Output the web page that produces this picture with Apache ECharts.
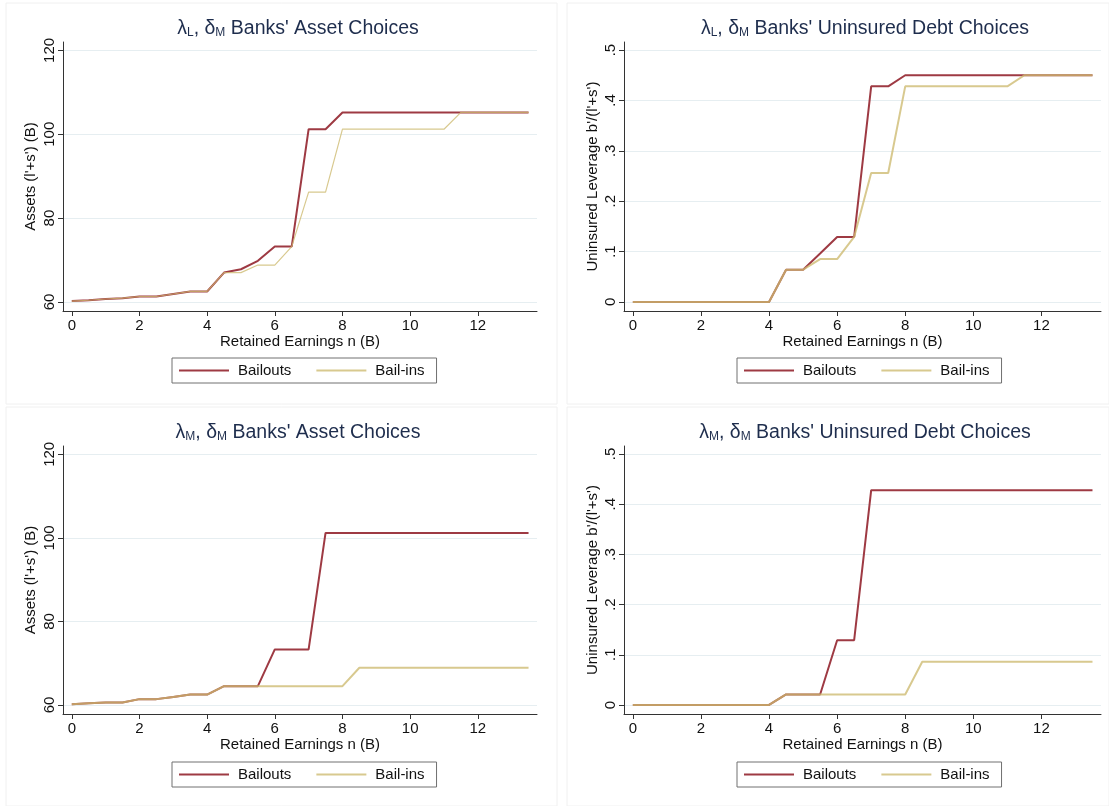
<!DOCTYPE html>
<html><head><meta charset="utf-8">
<script src="https://cdn.jsdelivr.net/npm/echarts@6/dist/echarts.min.js"></script>
<style>html,body{margin:0;padding:0;background:#fff}#c{width:1109px;height:806px}</style>
</head><body><div id="c"></div>
<script>
// ---- data ----
const earnings = [0,0.5,1,1.5,2,2.5,3,3.5,4,4.5,5,5.5,6,6.5,7,7.5,8,8.5,9,9.5,10,10.5,11,11.5,12,12.5,13,13.5];
const xTicks = [0,2,4,6,8,10,12];
const assetTicks = [60,80,100,120];
const levTicks = [0,0.1,0.2,0.3,0.4,0.5];
const levTickLabels = ['0','.1','.2','.3','.4','.5'];

const tlBailouts = [60.2,60.4,60.7,60.9,61.3,61.3,61.9,62.5,62.5,67.0,67.8,69.8,73.2,73.2,101.2,101.2,105.2,105.2,105.2,105.2,105.2,105.2,105.2,105.2,105.2,105.2,105.2,105.2];
const tlBailins  = [60.2,60.4,60.7,60.9,61.3,61.3,61.9,62.5,62.5,67.0,67.0,68.8,68.8,73.2,86.2,86.2,101.2,101.2,101.2,101.2,101.2,101.2,101.2,105.2,105.2,105.2,105.2,105.2];
const trBailouts = [0,0,0,0,0,0,0,0,0,0.064,0.064,0.096,0.129,0.129,0.428,0.428,0.450,0.450,0.450,0.450,0.450,0.450,0.450,0.450,0.450,0.450,0.450,0.450];
const trBailins  = [0,0,0,0,0,0,0,0,0,0.064,0.064,0.085,0.085,0.129,0.256,0.256,0.428,0.428,0.428,0.428,0.428,0.428,0.428,0.450,0.450,0.450,0.450,0.450];
const blBailouts = [60.2,60.4,60.6,60.6,61.4,61.4,61.9,62.5,62.5,64.5,64.5,64.5,73.3,73.3,73.3,101.2,101.2,101.2,101.2,101.2,101.2,101.2,101.2,101.2,101.2,101.2,101.2,101.2];
const blBailins  = [60.2,60.4,60.6,60.6,61.4,61.4,61.9,62.5,62.5,64.5,64.5,64.5,64.5,64.5,64.5,64.5,64.5,68.9,68.9,68.9,68.9,68.9,68.9,68.9,68.9,68.9,68.9,68.9];
const brBailouts = [0,0,0,0,0,0,0,0,0,0.021,0.021,0.021,0.129,0.129,0.428,0.428,0.428,0.428,0.428,0.428,0.428,0.428,0.428,0.428,0.428,0.428,0.428,0.428];
const brBailins  = [0,0,0,0,0,0,0,0,0,0.021,0.021,0.021,0.021,0.021,0.021,0.021,0.021,0.086,0.086,0.086,0.086,0.086,0.086,0.086,0.086,0.086,0.086,0.086];

// ---- layout / style ----
const FONT = 'Liberation Sans, Arial, sans-serif';
const RED = '#9e3a43';
const SAND = 'rgba(205,186,112,0.78)';
const TITLE_COLOR = '#1e2d4d';

const panels = [
  {title:'λ{s|L}, δ{s|M} Banks\' Asset Choices', yName:"Assets (l'+s') (B)", kind:'asset',
   grid:{left:63, top:42, width:474, height:269}, a:tlBailouts, b:tlBailins, bw:1.2, cx:298},
  {title:'λ{s|L}, δ{s|M} Banks\' Uninsured Debt Choices', yName:"Uninsured Leverage b'/(l'+s')", kind:'lev',
   grid:{left:624, top:42, width:477, height:269}, a:trBailouts, b:trBailins, bw:2, cx:865},
  {title:'λ{s|M}, δ{s|M} Banks\' Asset Choices', yName:"Assets (l'+s') (B)", kind:'asset',
   grid:{left:63, top:446, width:474, height:268}, a:blBailouts, b:blBailins, bw:2, cx:298},
  {title:'λ{s|M}, δ{s|M} Banks\' Uninsured Debt Choices', yName:"Uninsured Leverage b'/(l'+s')", kind:'lev',
   grid:{left:624, top:446, width:477, height:268}, a:brBailouts, b:brBailins, bw:2, cx:865}
];

const grids = [], xAxes = [], yAxes = [], series = [], legends = [], graphics = [];

panels.forEach((p, i) => {
  grids.push(p.grid);
  xAxes.push({
    type:'value', gridIndex:i, min:-0.26, max:13.75,
    name:'Retained Earnings n (B)', nameLocation:'middle', nameGap:23,
    nameTextStyle:{fontFamily:FONT, fontSize:15, color:'#111'},
    axisLine:{show:true, onZero:false, lineStyle:{color:'#333', width:1}},
    axisTick:{show:true, length:5, customValues:xTicks, lineStyle:{color:'#333'}},
    axisLabel:{customValues:xTicks, fontFamily:FONT, fontSize:15, color:'#111', margin:7},
    splitLine:{show:false}
  });
  const isAsset = p.kind === 'asset';
  const ticks = isAsset ? assetTicks : levTicks;
  yAxes.push({
    type:'value', gridIndex:i,
    min: isAsset ? 57.84 : -0.018, max: isAsset ? 122.0 : 0.516,
    name:p.yName, nameLocation:'middle', nameGap: isAsset ? 25 : 24, nameRotate:90,
    nameTextStyle:{fontFamily:FONT, fontSize:15, color:'#111'},
    axisLine:{show:true, onZero:false, lineStyle:{color:'#333', width:1}},
    axisTick:{show:true, length:5, customValues:ticks, lineStyle:{color:'#333'}},
    axisLabel:{customValues:ticks, rotate:90, fontFamily:FONT, fontSize:15, color:'#111', margin:6,
      formatter: v => isAsset ? String(Math.round(v)) : levTickLabels[levTicks.findIndex(t => Math.abs(t - v) < 1e-9)]},
    splitLine:{show:true, lineStyle:{color:'#e6eef1', width:1}}
  });
  series.push({
    name:'Bailouts#' + i, type:'line', xAxisIndex:i, yAxisIndex:i, symbol:'none', z:2,
    lineStyle:{color:RED, width:2}, itemStyle:{color:RED},
    data: earnings.map((x, k) => [x, p.a[k]])
  });
  series.push({
    name:'Bail-ins#' + i, type:'line', xAxisIndex:i, yAxisIndex:i, symbol:'none', z:3,
    lineStyle:{color:SAND, width:p.bw}, itemStyle:{color:SAND},
    data: earnings.map((x, k) => [x, p.b[k]])
  });
  const lx = p.grid.left < 300 ? 172 : 737;
  const ly = p.grid.top + 316;
  legends.push({
    data:['Bailouts#' + i, 'Bail-ins#' + i], formatter: n => n.split('#')[0],
    left:lx, top:ly, orient:'horizontal',
    borderColor:'#707070', borderWidth:1, backgroundColor:'#fff',
    padding:[5,12,5,6], itemGap:24, itemWidth:50, itemHeight:14,
    itemStyle:{opacity:0},
    textStyle:{fontFamily:FONT, fontSize:15, color:'#111', padding:[0,0,0,4]},
    selectedMode:false
  });
  graphics.push({
    type:'text', x:p.cx, y:p.grid.top - 13,
    style:{text:p.title, x:0, y:0, align:'center', verticalAlign:'middle',
      font:'19.5px ' + FONT, fill:TITLE_COLOR,
      rich:{s:{fontSize:12, fontFamily:FONT, fill:TITLE_COLOR, padding:[8,0,0,0]}}}
  });
});

// faint panel frames
[[6,3,551,401],[567,3,542,401],[6,407,551,399],[567,407,542,399]].forEach(r => {
  graphics.push({type:'rect', z:-10, shape:{x:r[0], y:r[1], width:r[2], height:r[3]},
    style:{fill:'#fff', stroke:'#f0f0f0', lineWidth:1}});
});

const chart = echarts.init(document.getElementById('c'), null, {renderer:'canvas'});
chart.setOption({
  backgroundColor:'#fff', animation:false,
  grid:grids, xAxis:xAxes, yAxis:yAxes, series:series, legend:legends, graphic:graphics
});
</script></body></html>
